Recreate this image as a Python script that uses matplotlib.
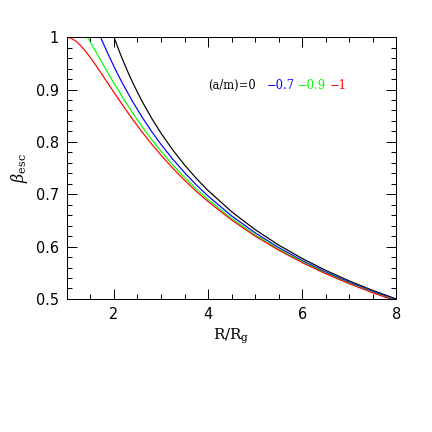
import numpy as np
import matplotlib
matplotlib.use('Agg')
import matplotlib.pyplot as plt
from matplotlib.ticker import MultipleLocator, FuncFormatter

# curve values (R/Rg, beta_esc)
r_a0 = [2.0, 2.1, 2.2, 2.3, 2.4, 2.5, 2.6, 2.8, 3.0, 3.25, 3.5, 3.75, 4.0,
        4.5, 5.0, 5.5, 6.0, 6.5, 7.0, 7.5, 8.0]
b_a0 = [1.0, 0.9759, 0.9535, 0.9325, 0.9129, 0.8944, 0.8771, 0.8452, 0.8165,
        0.7845, 0.7559, 0.7303, 0.7071, 0.6667, 0.6325, 0.6030, 0.5774,
        0.5547, 0.5345, 0.5164, 0.5000]

r_a07 = [1.714, 1.8, 1.9, 2.0, 2.1, 2.2, 2.4, 2.6, 2.8, 3.0, 3.25, 3.5, 3.75,
         4.0, 4.5, 5.0, 5.5, 6.0, 6.5, 7.0, 7.5, 8.0]
b_a07 = [1.0, 0.9824, 0.9627, 0.9439, 0.9258, 0.9086, 0.8764, 0.8469, 0.8199,
         0.7951, 0.7669, 0.7413, 0.7179, 0.6965, 0.6587, 0.6263, 0.5982,
         0.5735, 0.5515, 0.5319, 0.5142, 0.4981]

r_a09 = [1.436, 1.5, 1.6, 1.7, 1.8, 1.9, 2.0, 2.2, 2.4, 2.6, 2.8, 3.0, 3.25,
         3.5, 3.75, 4.0, 4.5, 5.0, 5.5, 6.0, 6.5, 7.0, 7.5, 8.0]
b_a09 = [1.0, 0.9901, 0.9745, 0.9586, 0.9428, 0.9272, 0.9119, 0.8825, 0.8548,
         0.8288, 0.8046, 0.7821, 0.7560, 0.7321, 0.7101, 0.6899, 0.6538,
         0.6224, 0.5951, 0.5710, 0.5495, 0.5302, 0.5127, 0.4969]

r_a1 = [1.0, 1.1, 1.2, 1.3, 1.4, 1.5, 1.6, 1.7, 1.8, 1.9, 2.0, 2.2, 2.4, 2.6,
        2.8, 3.0, 3.25, 3.5, 3.75, 4.0, 4.5, 5.0, 5.5, 6.0, 6.5, 7.0, 7.5, 8.0]
b_a1 = [1.0, 0.9977, 0.9918, 0.9831, 0.9726, 0.9608, 0.9481, 0.9349, 0.9214,
        0.9079, 0.8944, 0.8680, 0.8426, 0.8186, 0.7959, 0.7746, 0.7498,
        0.7268, 0.7056, 0.6860, 0.6508, 0.6202, 0.5933, 0.5695, 0.5483,
        0.5292, 0.5119, 0.4961]

labels = ['(a/m)=0', '\u22120.7', '\u22120.9', '\u22121']
colors = ['black', 'blue', '#00ff00', 'red']

plt.rcParams['mathtext.fontset'] = 'dejavuserif'

fig = plt.figure(figsize=(6, 6), dpi=72)
ax = fig.add_axes([0.155, 0.308, 0.762, 0.606])

for rr, bb, c in zip([r_a0, r_a07, r_a09, r_a1], [b_a0, b_a07, b_a09, b_a1], colors):
    ax.plot(rr, bb, color=c, lw=1.2)

ax.set_xlim(1, 8)
ax.set_ylim(0.5, 1)
ax.xaxis.set_major_locator(MultipleLocator(2))
ax.xaxis.set_minor_locator(MultipleLocator(0.5))
ax.yaxis.set_major_locator(MultipleLocator(0.1))
ax.yaxis.set_minor_locator(MultipleLocator(0.02))
ax.yaxis.set_major_formatter(FuncFormatter(lambda v, p: '%g' % round(v, 2)))
ax.tick_params(which='both', direction='in', top=True, right=True,
               labelsize=14.5, pad=8)
ax.tick_params(which='major', length=10, width=1)
ax.tick_params(which='minor', length=5, width=1)
for s in ax.spines.values():
    s.set_linewidth(1)

ax.set_xlabel('R/R$_{\\rm g}$', fontsize=15, family='DejaVu Serif', labelpad=5)
ax.set_ylabel(r'$\beta_{\rm esc}$', fontsize=16, labelpad=6)

# legend text, one coloured piece per curve
xpos = [0.43, 0.607, 0.701, 0.798]
for x, t, c in zip(xpos, labels, colors):
    ax.text(x, 0.817, t, color=c, transform=ax.transAxes, fontsize=11.5,
            family='DejaVu Serif', va='center', ha='left')

fig.savefig('out.png', dpi=72)
